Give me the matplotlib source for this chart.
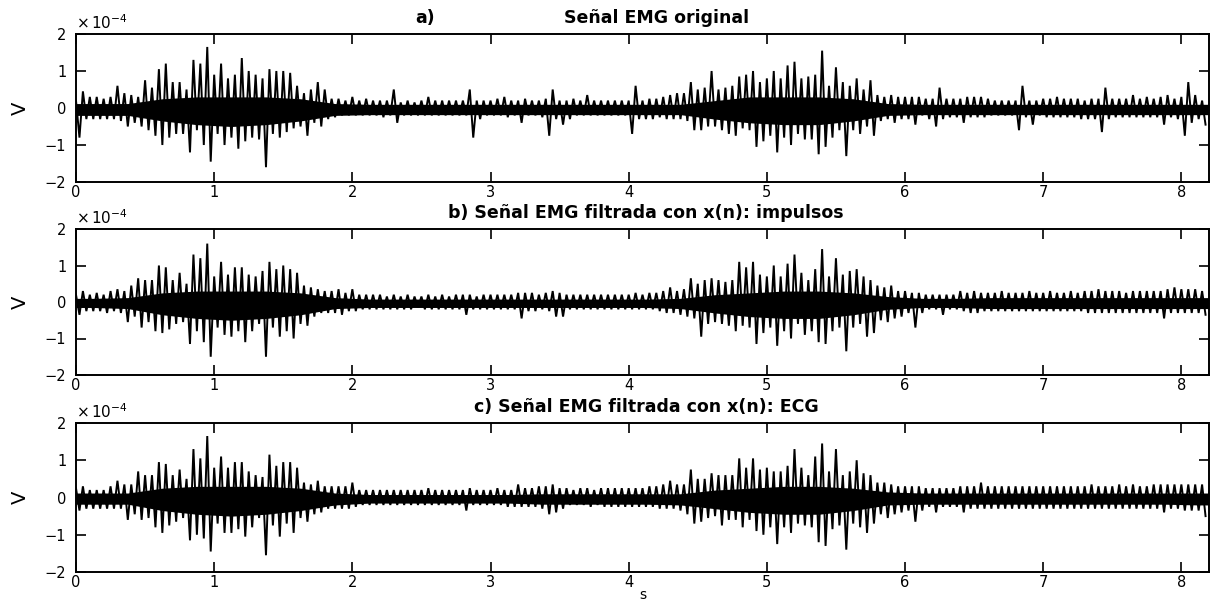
import numpy as np
import matplotlib
matplotlib.use("Agg")
import matplotlib.pyplot as plt

# Sampling step of the envelope readings (s); each step holds the local
# maximum and minimum of the EMG trace, in units of 1e-4 V.
STEP = 0.05
# Step of the dense-core readings (s): the solid band the trace fills in.
CORE_STEP = 0.25

# a) original EMG
A_HI = [0.20, 0.45, 0.30, 0.30, 0.25, 0.30, 0.60, 0.40, 0.35, 0.30,
        0.75, 0.55, 1.05, 1.20, 0.70, 0.70, 0.50, 1.30, 1.20, 1.65,
        0.90, 1.20, 0.80, 0.90, 1.35, 1.00, 0.90, 0.80, 1.05, 1.00,
        1.00, 0.95, 0.60, 0.40, 0.50, 0.70, 0.50, 0.25, 0.25, 0.20,
        0.30, 0.20, 0.25, 0.20, 0.20, 0.20, 0.50, 0.15, 0.20, 0.15,
        0.20, 0.30, 0.20, 0.20, 0.20, 0.20, 0.20, 0.50, 0.20, 0.20,
        0.20, 0.25, 0.30, 0.20, 0.20, 0.25, 0.20, 0.20, 0.25, 0.50,
        0.20, 0.20, 0.25, 0.20, 0.35, 0.20, 0.20, 0.20, 0.20, 0.20,
        0.20, 0.60, 0.20, 0.25, 0.25, 0.30, 0.35, 0.40, 0.40, 0.70,
        0.50, 0.55, 1.00, 0.50, 0.55, 0.60, 0.85, 0.90, 1.00, 0.70,
        0.80, 1.00, 0.80, 1.15, 1.25, 0.80, 0.85, 0.90, 1.55, 0.60,
        1.10, 0.70, 0.60, 0.80, 0.50, 0.75, 0.35, 0.30, 0.35, 0.30,
        0.30, 0.30, 0.30, 0.25, 0.25, 0.55, 0.25, 0.25, 0.25, 0.30,
        0.30, 0.30, 0.25, 0.20, 0.20, 0.20, 0.20, 0.60, 0.20, 0.20,
        0.25, 0.25, 0.30, 0.25, 0.25, 0.25, 0.20, 0.25, 0.25, 0.55,
        0.25, 0.25, 0.25, 0.35, 0.25, 0.30, 0.25, 0.30, 0.35, 0.25,
        0.30, 0.70, 0.35, 0.20]
A_LO = [-0.80, -0.30, -0.30, -0.30, -0.30, -0.30, -0.35, -0.50, -0.40, -0.50,
        -0.60, -0.75, -1.00, -0.80, -0.70, -0.70, -1.20, -0.60, -1.00, -1.45,
        -0.70, -1.00, -0.80, -1.10, -0.90, -0.80, -0.85, -1.60, -0.70, -0.80,
        -0.65, -0.55, -0.50, -0.75, -0.40, -0.50, -0.30, -0.25, -0.20, -0.20,
        -0.20, -0.20, -0.20, -0.20, -0.25, -0.20, -0.40, -0.20, -0.20, -0.20,
        -0.20, -0.20, -0.20, -0.20, -0.20, -0.20, -0.20, -0.80, -0.30, -0.20,
        -0.20, -0.20, -0.25, -0.20, -0.40, -0.20, -0.20, -0.25, -0.75, -0.30,
        -0.45, -0.30, -0.20, -0.20, -0.20, -0.20, -0.20, -0.20, -0.20, -0.20,
        -0.70, -0.30, -0.30, -0.30, -0.25, -0.30, -0.30, -0.30, -0.35, -0.60,
        -0.60, -0.50, -0.50, -0.60, -0.70, -0.75, -0.55, -0.60, -1.05, -0.90,
        -0.75, -1.20, -0.80, -1.00, -0.70, -0.85, -0.85, -1.25, -1.05, -0.80,
        -0.60, -1.30, -0.60, -0.70, -0.50, -0.75, -0.35, -0.30, -0.40, -0.30,
        -0.30, -0.45, -0.20, -0.30, -0.50, -0.30, -0.25, -0.25, -0.40, -0.25,
        -0.25, -0.25, -0.20, -0.20, -0.20, -0.20, -0.60, -0.25, -0.45, -0.20,
        -0.25, -0.25, -0.25, -0.25, -0.25, -0.30, -0.30, -0.30, -0.65, -0.30,
        -0.25, -0.25, -0.25, -0.25, -0.25, -0.25, -0.25, -0.45, -0.25, -0.30,
        -0.75, -0.40, -0.30, -0.45]
A_CORE_HI = [0.12, 0.12, 0.25, 0.30, 0.30, 0.30, 0.25, 0.12, 0.10, 0.10,
             0.10, 0.10, 0.10, 0.10, 0.10, 0.10, 0.10, 0.10, 0.20, 0.30,
             0.30, 0.30, 0.25, 0.12, 0.10, 0.10, 0.10, 0.10, 0.10, 0.10,
             0.10, 0.10, 0.10]
A_CORE_LO = [-0.20, -0.20, -0.35, -0.45, -0.50, -0.45, -0.35, -0.20, -0.18, -0.18,
             -0.18, -0.18, -0.18, -0.18, -0.18, -0.18, -0.18, -0.18, -0.30, -0.40,
             -0.45, -0.45, -0.35, -0.20, -0.18, -0.18, -0.18, -0.18, -0.18, -0.18,
             -0.18, -0.18, -0.18]

# b) EMG filtered with x(n): impulses
B_HI = [0.20, 0.30, 0.20, 0.25, 0.20, 0.30, 0.35, 0.30, 0.45, 0.65,
        0.60, 0.60, 1.00, 0.95, 0.60, 0.80, 0.50, 1.30, 1.20, 1.60,
        0.70, 1.10, 0.75, 0.95, 0.95, 0.75, 0.70, 0.85, 1.10, 0.90,
        1.00, 0.90, 0.80, 0.45, 0.40, 0.35, 0.30, 0.30, 0.35, 0.25,
        0.35, 0.20, 0.20, 0.20, 0.20, 0.15, 0.20, 0.15, 0.20, 0.15,
        0.15, 0.20, 0.15, 0.20, 0.15, 0.20, 0.20, 0.20, 0.15, 0.20,
        0.20, 0.20, 0.20, 0.20, 0.25, 0.25, 0.25, 0.20, 0.25, 0.30,
        0.25, 0.20, 0.20, 0.20, 0.20, 0.20, 0.20, 0.20, 0.20, 0.20,
        0.20, 0.25, 0.20, 0.25, 0.25, 0.30, 0.40, 0.30, 0.35, 0.65,
        0.50, 0.60, 0.65, 0.60, 0.55, 0.60, 1.10, 0.95, 1.10, 0.75,
        0.70, 1.00, 0.70, 1.05, 1.30, 0.80, 0.60, 0.90, 1.45, 0.70,
        1.20, 0.75, 0.85, 0.90, 0.70, 0.60, 0.45, 0.40, 0.45, 0.30,
        0.30, 0.25, 0.25, 0.20, 0.20, 0.20, 0.20, 0.20, 0.30, 0.25,
        0.30, 0.25, 0.25, 0.25, 0.30, 0.25, 0.25, 0.25, 0.30, 0.25,
        0.25, 0.30, 0.25, 0.25, 0.30, 0.25, 0.30, 0.30, 0.35, 0.30,
        0.30, 0.30, 0.25, 0.30, 0.30, 0.30, 0.30, 0.30, 0.35, 0.40,
        0.35, 0.35, 0.35, 0.30]
B_LO = [-0.35, -0.25, -0.25, -0.25, -0.30, -0.25, -0.30, -0.55, -0.40, -0.70,
        -0.55, -0.80, -0.85, -0.75, -0.60, -0.55, -1.15, -0.80, -1.10, -1.50,
        -0.70, -0.90, -0.95, -0.80, -1.10, -0.80, -0.60, -1.50, -0.70, -0.95,
        -0.80, -1.00, -0.60, -0.65, -0.40, -0.30, -0.30, -0.30, -0.35, -0.25,
        -0.25, -0.20, -0.20, -0.20, -0.20, -0.20, -0.20, -0.20, -0.20, -0.15,
        -0.20, -0.20, -0.20, -0.20, -0.20, -0.20, -0.35, -0.20, -0.20, -0.20,
        -0.20, -0.20, -0.20, -0.20, -0.45, -0.25, -0.25, -0.20, -0.25, -0.40,
        -0.40, -0.20, -0.20, -0.20, -0.20, -0.20, -0.20, -0.20, -0.20, -0.20,
        -0.20, -0.20, -0.20, -0.20, -0.25, -0.30, -0.30, -0.35, -0.40, -0.45,
        -0.95, -0.60, -0.55, -0.60, -0.65, -0.80, -0.65, -0.70, -1.15, -0.85,
        -0.70, -1.20, -0.80, -1.00, -0.60, -0.90, -0.80, -1.10, -1.15, -0.80,
        -0.70, -1.35, -0.70, -0.60, -0.95, -0.85, -0.50, -0.55, -0.45, -0.40,
        -0.30, -0.70, -0.30, -0.20, -0.20, -0.35, -0.20, -0.20, -0.25, -0.30,
        -0.30, -0.25, -0.25, -0.25, -0.25, -0.25, -0.25, -0.25, -0.25, -0.25,
        -0.25, -0.25, -0.25, -0.25, -0.25, -0.25, -0.30, -0.30, -0.30, -0.30,
        -0.30, -0.30, -0.30, -0.30, -0.30, -0.30, -0.30, -0.45, -0.30, -0.30,
        -0.30, -0.30, -0.30, -0.35]
B_CORE_HI = [0.10, 0.12, 0.25, 0.30, 0.30, 0.30, 0.25, 0.12, 0.08, 0.08,
             0.08, 0.08, 0.08, 0.08, 0.08, 0.08, 0.08, 0.10, 0.20, 0.25,
             0.30, 0.30, 0.25, 0.15, 0.10, 0.10, 0.12, 0.12, 0.12, 0.12,
             0.12, 0.12, 0.12]
B_CORE_LO = [-0.15, -0.18, -0.35, -0.45, -0.50, -0.45, -0.35, -0.18, -0.15, -0.15,
             -0.15, -0.15, -0.15, -0.15, -0.15, -0.15, -0.15, -0.18, -0.30, -0.40,
             -0.45, -0.45, -0.35, -0.20, -0.15, -0.15, -0.18, -0.18, -0.18, -0.18,
             -0.18, -0.18, -0.18]

# c) EMG filtered with x(n): ECG
C_HI = [0.25, 0.30, 0.20, 0.20, 0.20, 0.30, 0.45, 0.35, 0.35, 0.70,
        0.60, 0.60, 0.95, 0.90, 0.60, 0.75, 0.50, 1.30, 1.05, 1.65,
        0.80, 1.10, 0.80, 0.95, 0.95, 0.70, 0.60, 0.55, 1.15, 0.85,
        0.95, 0.95, 0.80, 0.40, 0.35, 0.45, 0.30, 0.30, 0.30, 0.30,
        0.40, 0.20, 0.20, 0.20, 0.20, 0.20, 0.20, 0.20, 0.20, 0.20,
        0.20, 0.25, 0.20, 0.20, 0.20, 0.20, 0.20, 0.25, 0.20, 0.20,
        0.20, 0.25, 0.20, 0.20, 0.35, 0.25, 0.25, 0.30, 0.30, 0.35,
        0.25, 0.25, 0.20, 0.25, 0.25, 0.20, 0.25, 0.25, 0.25, 0.25,
        0.25, 0.25, 0.25, 0.30, 0.30, 0.35, 0.45, 0.35, 0.35, 0.75,
        0.50, 0.50, 0.65, 0.60, 0.60, 0.60, 1.05, 0.80, 1.05, 0.75,
        0.80, 0.70, 0.70, 0.85, 1.30, 0.80, 0.60, 1.10, 1.45, 0.70,
        1.30, 0.60, 0.70, 1.00, 0.65, 0.60, 0.40, 0.40, 0.35, 0.30,
        0.30, 0.30, 0.30, 0.25, 0.25, 0.25, 0.25, 0.25, 0.30, 0.30,
        0.30, 0.40, 0.30, 0.30, 0.30, 0.30, 0.30, 0.30, 0.30, 0.30,
        0.30, 0.30, 0.30, 0.30, 0.30, 0.30, 0.30, 0.35, 0.30, 0.30,
        0.30, 0.35, 0.30, 0.35, 0.30, 0.30, 0.35, 0.35, 0.35, 0.35,
        0.35, 0.35, 0.35, 0.35]
C_LO = [-0.35, -0.30, -0.30, -0.30, -0.30, -0.30, -0.30, -0.60, -0.45, -0.60,
        -0.55, -0.80, -0.95, -0.75, -0.65, -0.55, -1.15, -1.00, -1.10, -1.45,
        -0.70, -0.95, -0.95, -0.85, -1.05, -0.80, -0.55, -1.55, -0.75, -1.05,
        -0.70, -0.95, -0.55, -0.65, -0.45, -0.40, -0.30, -0.30, -0.30, -0.30,
        -0.25, -0.20, -0.20, -0.20, -0.20, -0.20, -0.20, -0.20, -0.20, -0.20,
        -0.20, -0.20, -0.20, -0.20, -0.20, -0.20, -0.35, -0.20, -0.20, -0.20,
        -0.20, -0.20, -0.25, -0.25, -0.25, -0.25, -0.25, -0.30, -0.45, -0.40,
        -0.30, -0.20, -0.20, -0.20, -0.25, -0.20, -0.25, -0.25, -0.25, -0.25,
        -0.25, -0.25, -0.25, -0.25, -0.30, -0.30, -0.30, -0.35, -0.45, -0.70,
        -0.65, -0.55, -0.50, -0.75, -0.60, -0.60, -0.80, -0.60, -0.90, -1.00,
        -0.80, -1.25, -0.80, -0.95, -0.70, -0.75, -0.80, -1.20, -1.30, -0.85,
        -0.75, -1.40, -0.70, -0.80, -0.95, -0.70, -0.45, -0.55, -0.45, -0.40,
        -0.35, -0.65, -0.35, -0.25, -0.40, -0.25, -0.25, -0.25, -0.40, -0.30,
        -0.30, -0.30, -0.30, -0.30, -0.30, -0.30, -0.30, -0.30, -0.30, -0.30,
        -0.30, -0.30, -0.30, -0.30, -0.30, -0.30, -0.30, -0.30, -0.30, -0.30,
        -0.30, -0.30, -0.30, -0.30, -0.30, -0.30, -0.30, -0.40, -0.30, -0.30,
        -0.35, -0.35, -0.35, -0.50]
C_CORE_HI = [0.12, 0.12, 0.25, 0.30, 0.30, 0.30, 0.25, 0.12, 0.08, 0.08,
             0.08, 0.08, 0.08, 0.10, 0.10, 0.10, 0.10, 0.10, 0.20, 0.25,
             0.30, 0.30, 0.25, 0.15, 0.12, 0.12, 0.12, 0.12, 0.12, 0.12,
             0.12, 0.12, 0.12]
C_CORE_LO = [-0.18, -0.18, -0.35, -0.45, -0.50, -0.45, -0.35, -0.20, -0.15, -0.15,
             -0.15, -0.15, -0.15, -0.18, -0.18, -0.18, -0.18, -0.20, -0.30, -0.40,
             -0.45, -0.45, -0.35, -0.20, -0.18, -0.18, -0.18, -0.18, -0.18, -0.18,
             -0.18, -0.18, -0.20]

X_TICKS = [0, 1, 2, 3, 4, 5, 6, 7, 8]
Y_TICKS = [-2, -1, 0, 1, 2]
X_MAX = 8.2

TITLES = ["Señal EMG original",
          "b) Señal EMG filtrada con x(n): impulsos",
          "c) Señal EMG filtrada con x(n): ECG"]

plt.rcParams["font.family"] = ["DejaVu Sans"]


def trace(hi, lo):
    """Interleave the max/min readings into one continuous line."""
    hi = np.asarray(hi, dtype=float)
    lo = np.asarray(lo, dtype=float)
    t = np.arange(len(hi)) * STEP
    x = np.empty(2 * len(hi))
    y = np.empty(2 * len(hi))
    x[0::2] = t
    x[1::2] = t + STEP / 2
    y[0::2] = hi
    y[1::2] = lo
    return x, y


def core(hi, lo):
    """Outline of the solid band, centred on each reading window."""
    t = np.arange(len(hi)) * CORE_STEP + CORE_STEP / 2
    t = np.concatenate([[0.0], t, [X_MAX]])
    yh = np.concatenate([[hi[0]], hi, [hi[-1]]])
    yl = np.concatenate([[lo[0]], lo, [lo[-1]]])
    return t, yh, yl


fig = plt.figure(figsize=(12.16, 6.07), dpi=100)
W, H = 1216, 607
left, right = 76, 1209
panels = [(34, 182), (229, 375), (423, 572)]
series = [(A_HI, A_LO, A_CORE_HI, A_CORE_LO),
          (B_HI, B_LO, B_CORE_HI, B_CORE_LO),
          (C_HI, C_LO, C_CORE_HI, C_CORE_LO)]

for i, ((top, bot), (hi, lo, chi, clo)) in enumerate(zip(panels, series)):
    ax = fig.add_axes([left / W, 1 - bot / H, (right - left) / W, (bot - top) / H])
    tc, yh, yl = core(chi, clo)
    ax.fill_between(tc, yl, yh, color="black", lw=0)
    x, y = trace(hi, lo)
    ax.plot(x, y, color="black", lw=1.4, solid_joinstyle="miter")
    ax.set_xlim(0, X_MAX)
    ax.set_ylim(-2, 2)
    ax.set_xticks(X_TICKS)
    ax.set_yticks(Y_TICKS)
    ax.tick_params(direction="in", length=7, width=1.2, top=True, right=True,
                   labelsize=10.5, pad=2)
    ax.tick_params(axis="y", pad=7)
    for sp in ax.spines.values():
        sp.set_linewidth(1.4)
    ax.set_ylabel("V", fontsize=14)
    ax.yaxis.set_label_coords(-(left - 30) / (right - left), 0.5)
    ax.text(0.0, 1.0 + 11 / (bot - top), r"$\times\,10^{-4}$", transform=ax.transAxes,
            fontsize=11, ha="left", va="center")
    ty = 1.0 + 16 / (bot - top)
    if i == 0:
        ax.text((415 - left) / (right - left), ty, "a)", transform=ax.transAxes,
                fontsize=12.5, fontweight="bold", ha="left", va="center")
        ax.text((657 - left) / (right - left), ty, TITLES[0], transform=ax.transAxes,
                fontsize=12.5, fontweight="bold", ha="center", va="center")
    else:
        ax.text((646 - left) / (right - left), ty, TITLES[i], transform=ax.transAxes,
                fontsize=12.5, fontweight="bold", ha="center", va="center")
    if i == 2:
        ax.set_xlabel("s", fontsize=10, labelpad=-1)

fig.savefig("out.png", dpi=100)
